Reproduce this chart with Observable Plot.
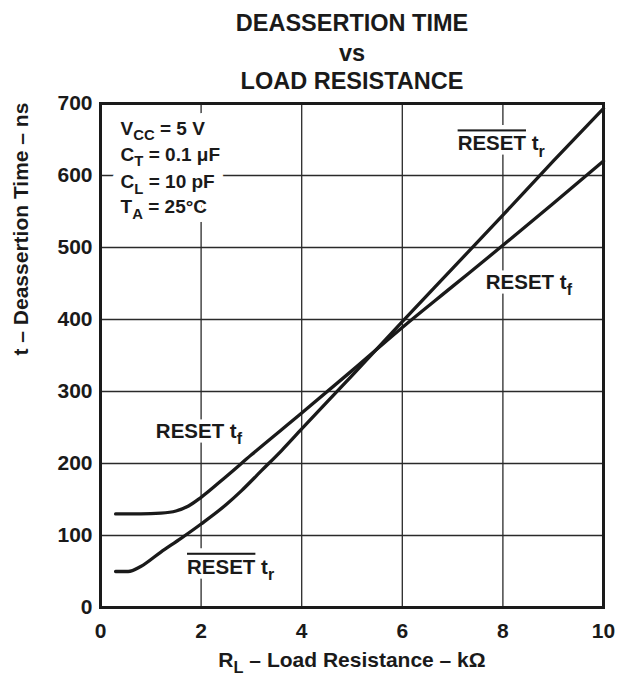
<!DOCTYPE html>
<html>
<head>
<meta charset="utf-8">
<script src="https://cdn.jsdelivr.net/npm/d3@7"></script>
<script src="https://cdn.jsdelivr.net/npm/@observablehq/plot@0.6"></script>
<style>
  html, body { margin: 0; padding: 0; background: #fff; }
  #chart { width: 624px; height: 680px; }
</style>
</head>
<body>
<div id="chart"></div>
<script>
// ---- data ----
const titleLines = ["DEASSERTION TIME", "vs", "LOAD RESISTANCE"];
const xLabel = "R_{L} – Load Resistance – kΩ";
const yLabel = "t – Deassertion Time – ns";
const xTicks = [0, 2, 4, 6, 8, 10];
const yTicks = [0, 100, 200, 300, 400, 500, 600, 700];
const xGrid = [2, 4, 6, 8];
const yGrid = [100, 200, 300, 400, 500, 600];

// RESET t_f  (kΩ, ns)
const resetTfR = [0.3, 0.8, 1.2, 1.5, 1.75, 2, 2.5, 3, 4, 5, 6, 7, 8, 9, 10];
const resetTfT = [130, 130, 131, 134, 141, 153, 182, 212, 270, 329, 389, 446, 503, 561, 620];
// RESET-bar t_r  (kΩ, ns)
const resetTrR = [0.3, 0.55, 0.8, 1.2, 1.6, 2, 2.5, 2.8, 3.2, 3.6, 4, 5, 6, 7, 8, 9, 10];
const resetTrT = [50, 50, 57, 77, 96, 116, 143, 162, 190, 218, 248, 322, 397, 471, 545, 620, 693];

// curve labels
const curveLabelText = ["RESET t_{f}", "‾{RESET} t_{r}", "‾{RESET} t_{r}", "RESET t_{f}"];
const curveLabelR = [1.1, 1.72, 7.1, 7.66];
const curveLabelT = [245, 56, 644, 451];

// conditions
const condText = ["V_{CC} = 5 V", "C_{T} = 0.1 μF", "C_{L} = 10 pF", "T_{A} = 25°C"];
const condR = [0.4, 0.4, 0.4, 0.4];
const condT = [665, 629, 591, 556];

// ---- build tables ----
const tf = resetTfR.map((r, i) => ({r, t: resetTfT[i]}));
const tr = resetTrR.map((r, i) => ({r, t: resetTrT[i]}));
const curveLabels = curveLabelText.map((s, i) => ({s, r: curveLabelR[i], t: curveLabelT[i]}));
const conds = condText.map((s, i) => ({s, r: condR[i], t: condT[i]}));

const FONT = "'Liberation Sans', Arial, Helvetica, sans-serif";
const ink = "#1a1a1a";

const condStyle = {x: "r", y: "t", text: "s", textAnchor: "start", fontSize: 19, fontWeight: "bold"};
const labelStyle = {x: "r", y: "t", text: "s", textAnchor: "start", fontSize: 20.5, fontWeight: "bold"};

const chart = Plot.plot({
  width: 624,
  height: 680,
  marginLeft: 100,
  marginRight: 21,
  marginTop: 103,
  marginBottom: 73,
  style: {fontFamily: FONT, fontWeight: "bold", fontSize: "21px", color: ink, background: "#fff"},
  x: {domain: [0, 10], label: null},
  y: {domain: [0, 700], label: null},
  marks: [
    Plot.gridX(xGrid, {stroke: "#2a2a2a", strokeOpacity: 1, strokeWidth: 1.3}),
    Plot.gridY(yGrid, {stroke: "#2a2a2a", strokeOpacity: 1, strokeWidth: 1.3}),
    // white halos (separate layer, so they never cover neighbouring glyphs)
    Plot.text(conds, {...condStyle, fill: "white", stroke: "white", strokeWidth: 18}),
    Plot.text(curveLabels, {...labelStyle, fill: "white", stroke: "white", strokeWidth: 9}),
    Plot.text(conds, {...condStyle, fill: ink}),
    Plot.text(curveLabels, {...labelStyle, fill: ink}),
    Plot.line(tf, {x: "r", y: "t", curve: "monotone-x", stroke: ink, strokeWidth: 3.3}),
    Plot.line(tr, {x: "r", y: "t", curve: "monotone-x", stroke: ink, strokeWidth: 3.3}),
    Plot.frame({stroke: ink, strokeWidth: 3}),
    Plot.axisX(xTicks, {tickSize: 0, tickPadding: 16, fontSize: 21, fontWeight: "bold", fill: ink, label: null}),
    Plot.axisY(yTicks, {tickSize: 0, tickPadding: 8, fontSize: 21, fontWeight: "bold", fill: ink, label: null}),
    Plot.text([xLabel], {frameAnchor: "bottom", dy: 59, text: d => d, fontSize: 21, fontWeight: "bold", fill: ink}),
    Plot.text([yLabel], {frameAnchor: "left", dx: -79, rotate: -90, text: d => d, fontSize: 21, fontWeight: "bold", fill: ink}),
    Plot.text([titleLines[0]], {frameAnchor: "top", dy: -89.5, text: d => d, fontSize: 23.5, fontWeight: "bold", fill: ink}),
    Plot.text([titleLines[1]], {frameAnchor: "top", dy: -59, text: d => d, fontSize: 23.5, fontWeight: "bold", fill: ink}),
    Plot.text([titleLines[2]], {frameAnchor: "top", dy: -31.5, text: d => d, fontSize: 23.5, fontWeight: "bold", fill: ink})
  ]
});

document.getElementById("chart").appendChild(chart);

// ---- rich text: _{sub} and ‾{overline} ----
(function applyMarkup(svg) {
  const ns = "http://www.w3.org/2000/svg";
  svg.querySelectorAll("text").forEach(t => {
    const s = t.textContent;
    if (!/[_‾]\{/.test(s)) return;
    const fs = parseFloat(getComputedStyle(t).fontSize) || 20;
    while (t.firstChild) t.removeChild(t.firstChild);
    const re = /([_‾])\{([^}]*)\}/g;
    let last = 0, m, pendingShift = 0;
    const add = (txt, attrs, style) => {
      const sp = document.createElementNS(ns, "tspan");
      sp.textContent = txt;
      for (const k in attrs) sp.setAttribute(k, attrs[k]);
      if (style) sp.setAttribute("style", style);
      t.appendChild(sp);
      return sp;
    };
    const addPlain = (txt) => {
      if (!txt) return;
      const a = {};
      if (pendingShift) { a.dy = -pendingShift; pendingShift = 0; }
      add(txt, a);
    };
    while ((m = re.exec(s))) {
      addPlain(s.slice(last, m.index));
      if (m[1] === "_") {
        const shift = 0.3 * fs;
        add(m[2], {dy: shift - pendingShift, "font-size": (0.78 * fs) + "px"});
        pendingShift = shift;
      } else {
        const a = {};
        if (pendingShift) { a.dy = -pendingShift; pendingShift = 0; }
        add(m[2], a, "text-decoration: overline; text-decoration-thickness: 2px;");
      }
      last = re.lastIndex;
    }
    addPlain(s.slice(last));
  });
})(chart);
</script>
</body>
</html>
